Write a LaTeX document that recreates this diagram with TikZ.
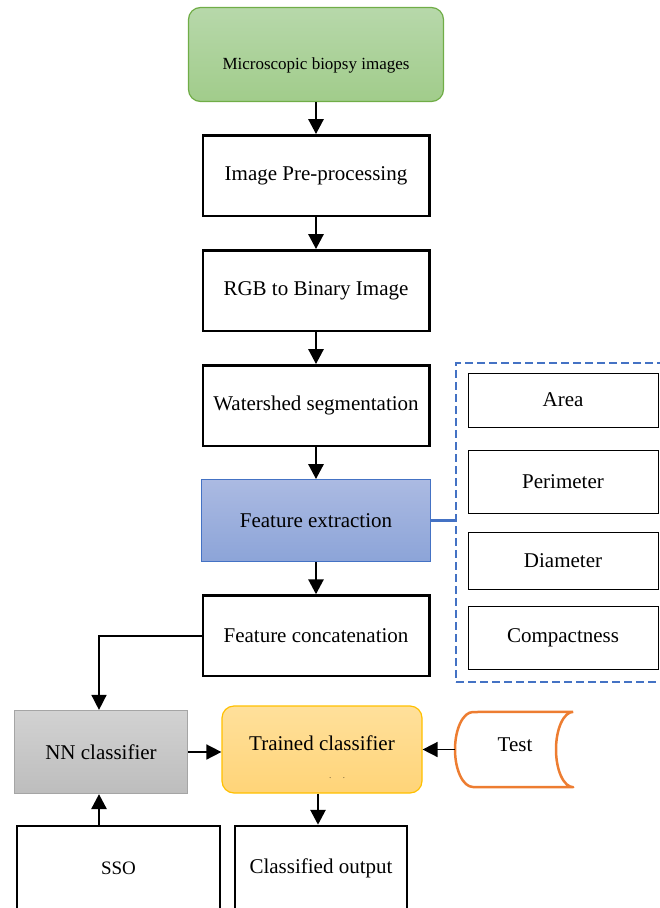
\documentclass[tikz,border=0pt]{standalone}
\usepackage{fontspec}
\setmainfont{Liberation Serif}
\usetikzlibrary{arrows.meta,positioning}
\definecolor{FlowGreenTop}{RGB}{183,216,170}
\definecolor{FlowGreenBot}{RGB}{161,204,139}
\definecolor{FlowGreenLine}{RGB}{112,173,71}
\definecolor{FlowBlueTop}{RGB}{171,186,226}
\definecolor{FlowBlueBot}{RGB}{140,164,216}
\definecolor{FlowBlueLine}{RGB}{68,114,196}
\definecolor{FlowGrayTop}{RGB}{210,210,210}
\definecolor{FlowGrayBot}{RGB}{189,189,189}
\definecolor{FlowGrayLine}{RGB}{165,165,165}
\definecolor{FlowGoldTop}{RGB}{255,224,155}
\definecolor{FlowGoldBot}{RGB}{255,212,120}
\definecolor{FlowGoldLine}{RGB}{255,192,0}
\definecolor{FlowOrange}{RGB}{237,125,49}

\begin{document}
\begin{tikzpicture}[
  x=1pt, y=-1pt,
  font=\fontsize{21}{25}\selectfont,
  node distance=32pt,
  proc/.style={draw=black, line width=2.5pt, fill=white, align=center,
    minimum width=226.5pt, minimum height=80.5pt, inner sep=0pt},
  source/.style={draw=FlowGreenLine, line width=1.2pt, rounded corners=12pt,
    top color=FlowGreenTop, bottom color=FlowGreenBot, align=center,
    minimum width=255pt, minimum height=94pt, inner sep=0pt},
  featbox/.style={proc, draw=FlowBlueLine, line width=1.2pt,
    minimum width=228.5pt, minimum height=82pt,
    top color=FlowBlueTop, bottom color=FlowBlueBot},
  attr/.style={draw=black, line width=1pt, fill=white, align=center,
    minimum width=190pt, inner sep=0pt},
  arr/.style={-{Triangle[length=15pt,width=15pt]}, line width=2.8pt, draw=black},
  thinarr/.style={arr, line width=1.6pt}
]
\useasboundingbox (0,0) rectangle (660,908);
\node[source] (images) at (316,54.5) {};
\node[font=\fontsize{17}{20}\selectfont] (imagestext) at (316,65) {Microscopic biopsy images};
\node[proc, below=of images] (prep) {Image Pre-processing};
\node[proc, below=of prep] (binary) {RGB to Binary Image};
\node[proc, below=of binary] (water) {Watershed segmentation};
\node[featbox, below=of water] (feat) {Feature extraction};
\node[proc, below=of feat] (concat) {Feature concatenation};

\node[draw=FlowBlueLine, line width=2.2pt, dash pattern=on 8pt off 4pt,
  minimum width=209pt, minimum height=319pt] (attrs) at (560.5,522.5) {};
\node[attr, minimum height=54pt] (area) at (563,400) {Area};
\node[attr, minimum height=63pt] (perim) at (563,481.5) {Perimeter};
\node[attr, minimum height=57pt] (diam) at (563,560.5) {Diameter};
\node[attr, minimum height=63pt] (compact) at (563,637.5) {Compactness};

\node[draw=FlowGrayLine, line width=1.2pt, top color=FlowGrayTop, bottom color=FlowGrayBot,
  minimum width=173pt, minimum height=83pt] (nn) at (101,752) {NN classifier};
\node[draw=FlowGoldLine, line width=1.2pt, rounded corners=12pt, top color=FlowGoldTop,
  bottom color=FlowGoldBot, minimum width=200pt, minimum height=87pt] (trained) at (322,749.5) {};
\node (trainedtext) at (322,743) {Trained classifier};
\node[font=\fontsize{7}{8}\selectfont] (dots) at (337,778) {.\hspace{12pt}.};
\node[minimum width=118pt, minimum height=75pt, inner sep=0pt] (test) at (514,749.5) {};
\node (testtext) at (515,745) {Test};
\draw[FlowOrange, line width=2.5pt, line join=round]
  (test.north east) -- (473,712)
  .. controls (463.1,712) and (455,728.8) .. (455,749.5)
  .. controls (455,770.2) and (463.1,787) .. (473,787)
  -- (test.south east)
  .. controls (563.6,787) and (556,770.2) .. (556,749.5)
  .. controls (556,728.8) and (563.6,712) .. (test.north east);

\node[proc, minimum width=203pt, minimum height=85pt, font=\fontsize{19}{22}\selectfont] (sso) at (118.5,868.5) {SSO};
\node[proc, minimum width=172pt, minimum height=85pt] (output) at (321,868.5) {Classified output};

\draw[arr] (images) -- (prep);
\draw[arr] (prep) -- (binary);
\draw[arr] (binary) -- (water);
\draw[arr] (water) -- (feat);
\draw[arr] (feat) -- (concat);
\draw[FlowBlueLine, line width=2.5pt] (feat.east) -- (feat.east -| attrs.west);
\draw[thinarr] (concat.west) -| ([xshift=-2pt]nn.north);
\draw[arr] ([xshift=-2pt]sso.north -| nn.south) -- ([xshift=-2pt]nn.south);
\draw[thinarr] (nn.east) -- (nn.east -| trained.west);
\draw[thinarr] (test.west) -- (test.west -| trained.east);
\draw[arr] ([xshift=-4pt]trained.south) -- ([xshift=-4pt]trained.south |- output.north);
\end{tikzpicture}
\end{document}
